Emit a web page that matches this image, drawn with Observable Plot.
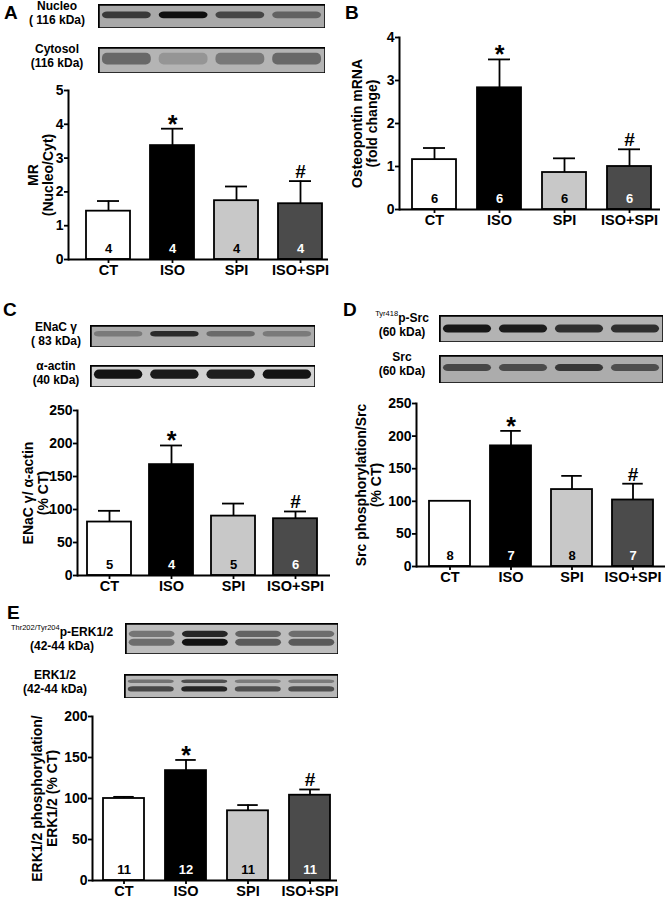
<!DOCTYPE html>
<html>
<head>
<meta charset="utf-8">
<script src="https://cdn.jsdelivr.net/npm/d3@7"></script>
<script src="https://cdn.jsdelivr.net/npm/@observablehq/plot@0.6"></script>
<style>
  body { margin: 0; background: white; }
  #fig { position: relative; width: 666px; height: 899px; background: white; overflow: hidden;
         font-family: "Liberation Sans", Arial, sans-serif; font-weight: bold; color: black; }
  .lbl { position: absolute; text-align: center; font-size: 12px; line-height: 14px; height: 14px; white-space: pre; }
  .letter { position: absolute; font-size: 19px; line-height: 19px; }
  .sup { font-size: 7.5px; font-weight: normal; display: inline-block; vertical-align: top; line-height: 8px; margin-top: -1px; }
</style>
</head>
<body>
<div id="fig"></div>
<script>
// ---------- data ----------
const groups = ["CT", "ISO", "SPI", "ISO+SPI"];
const signif = ["", "*", "", "#"];

// A: MR nuclear / cytosol ratio
const mrMean = [1.43, 3.37, 1.74, 1.65];
const mrSem  = [0.30, 0.50, 0.42, 0.67];
const mrN    = [4, 4, 4, 4];
const mrTicks = [0, 1, 2, 3, 4, 5];

// B: Osteopontin mRNA
const opnMean = [1.16, 2.83, 0.86, 1.00];
const opnSem  = [0.27, 0.66, 0.33, 0.40];
const opnN    = [6, 6, 6, 6];
const opnTicks = [0, 1, 2, 3, 4];

// C: ENaC gamma / alpha-actin
const enacMean = [81, 168, 90, 86];
const enacSem  = [17, 29, 19, 11];
const enacN    = [5, 4, 5, 6];
const enacTicks = [0, 50, 100, 150, 200, 250];

// D: Src phosphorylation / Src
const srcMean = [100, 185, 118, 102];
const srcSem  = [0, 23, 21, 25];
const srcN    = [8, 7, 8, 7];
const srcTicks = [0, 50, 100, 150, 200, 250];

// E: ERK1/2 phosphorylation / ERK1/2
const erkMean = [100, 134, 85, 104];
const erkSem  = [2, 13, 7, 7];
const erkN    = [11, 12, 11, 11];
const erkTicks = [0, 50, 100, 150, 200];

// Western blot band intensities (per lane, 0..1)
const nucleoBand  = [0.70, 0.97, 0.62, 0.45];
const cytosolBand = [0.45, 0.18, 0.35, 0.45];
const enacBand    = [0.30, 0.80, 0.40, 0.30];
const actinBand   = [0.95, 0.92, 0.90, 0.95];
const pSrcBand    = [0.92, 0.90, 0.78, 0.78];
const srcBand     = [0.62, 0.60, 0.72, 0.58];
const pErkUpper   = [0.40, 0.85, 0.50, 0.45];
const pErkLower   = [0.45, 0.95, 0.55, 0.55];
const erkUpper    = [0.40, 0.60, 0.35, 0.35];
const erkLower    = [0.65, 0.85, 0.60, 0.60];

// ---------- styling / layout ----------
const fills = ["#ffffff", "#000000", "#c8c8c8", "#4b4b4b"];
const nColor = ["black", "white", "black", "white"];
const fig = document.getElementById("fig");
const FONT = '"Liberation Sans", Arial, sans-serif';

const hasNarrow = (() => {
  const ctx = document.createElement("canvas").getContext("2d");
  ctx.font = 'bold 20px "Liberation Sans Narrow", monospace';
  const a = ctx.measureText("ISO+SPI 0123").width;
  ctx.font = 'bold 20px monospace';
  const b = ctx.measureText("ISO+SPI 0123").width;
  return Math.abs(a - b) > 0.5;
})();
const TICKFONT = hasNarrow ? '"Liberation Sans Narrow", "Liberation Sans", Arial, sans-serif' : FONT;
const XSIZE = hasNarrow ? 17 : 14.5;
const YSIZE = hasNarrow ? 16.5 : 14;
const NSIZE = hasNarrow ? 15.5 : 13;

function place(el, left, top) {
  el.style.position = "absolute";
  el.style.left = left + "px";
  el.style.top = top + "px";
  el.style.background = "transparent";
  el.style.maxWidth = "none";
  fig.appendChild(el);
}

function barChart(mean, sem, n, ticks, label, L) {
  const data = groups.map((g, i) => ({g, i, mean: mean[i], top: mean[i] + sem[i], n: n[i], sig: signif[i]}));
  const step = (L.barEnd - L.barStart - L.bw) / 3;
  const pi = 1 - L.bw / step;
  const sw = 1.8;
  const svg = Plot.plot({
    width: L.w, height: L.h,
    marginLeft: L.ml, marginTop: L.mt, marginRight: L.mr, marginBottom: L.mb,
    style: {fontFamily: FONT, fontWeight: "bold", fontSize: "15px", color: "black", background: "transparent", overflow: "visible"},
    x: {type: "band", domain: groups, range: [L.barStart - L.left, L.barEnd - L.left], paddingInner: pi, paddingOuter: 0, label: null},
    y: {domain: [ticks[0], ticks[ticks.length - 1]], label: null},
    color: {type: "identity"},
    marks: [
      Plot.ruleX(data.filter(d => d.top > d.mean), {x: "g", y1: "mean", y2: "top", stroke: "black", strokeWidth: sw}),
      Plot.tickY(data.filter(d => d.top > d.mean), {x: "g", y: "top", stroke: "black", strokeWidth: sw, insetLeft: L.bw / 4, insetRight: L.bw / 4}),
      Plot.barY(data, {x: "g", y: "mean", fill: d => fills[d.i], stroke: "black", strokeWidth: sw}),
      Plot.text(data, {x: "g", y: ticks[0], text: d => String(d.n), fill: d => nColor[d.i], dy: -11, fontSize: NSIZE, fontFamily: TICKFONT}),
      Plot.text(data.filter(d => d.sig === "*"), {x: "g", y: "top", text: "sig", dy: 4, fontSize: 25, lineAnchor: "bottom"}),
      Plot.text(data.filter(d => d.sig === "#"), {x: "g", y: "top", text: "sig", dy: -3, fontSize: 19, lineAnchor: "bottom"}),
      Plot.axisY({ticks, tickFormat: d => String(d), tickSize: 4, tickPadding: 1, strokeWidth: sw, fontSize: YSIZE, fontFamily: TICKFONT, label: null}),
      Plot.axisX({tickSize: 4, tickPadding: 1, strokeWidth: sw, fontSize: XSIZE, fontFamily: TICKFONT, label: null}),
      Plot.ruleY([ticks[0]], {stroke: "black", strokeWidth: 2}),
      Plot.frame({anchor: "left", stroke: "black", strokeWidth: 2}),
      Plot.text([label], {frameAnchor: "left", rotate: -90, dx: L.labelDx, fontSize: 14, textAnchor: "middle", lineAnchor: "middle", lineHeight: 1.05, ariaLabel: "ylabel"})
    ]
  });
  place(svg, L.left, L.top);
  return svg;
}

let blurCount = 0;
function blot(bands, L) {
  const rows = [];
  bands.forEach((b) => b.vals.forEach((v, lane) => rows.push({lane, v, yc: b.yc, t: b.t})));
  const svg = Plot.plot({
    width: L.w, height: L.h, margin: 0,
    x: {domain: [0, 4], axis: null},
    y: {domain: [1, 0], axis: null},
    style: {background: "transparent"},
    marks: [
      Plot.frame({fill: L.bg, stroke: null}),
      Plot.rect(rows, {x1: d => d.lane + 0.07, x2: d => d.lane + 0.93, y1: d => d.yc - d.t / 2, y2: d => d.yc + d.t / 2,
                       fill: "#0a0a0a", fillOpacity: "v", rx: 5, ariaLabel: "band"}),
      Plot.frame({stroke: "black", strokeWidth: 2.5, fill: "none"})
    ]
  });
  const id = "blur" + (blurCount++);
  const s = d3.select(svg);
  const f = s.insert("defs", ":first-child").append("filter").attr("id", id)
    .attr("x", "-30%").attr("y", "-150%").attr("width", "160%").attr("height", "400%");
  f.append("feGaussianBlur").attr("stdDeviation", L.blur || 2.2);
  s.selectAll('g[aria-label="band"]').attr("filter", `url(#${id})`);
  place(svg, L.left, L.top);
}

// two-line blot label, each line its own element
function label(line1, line2, cx, top, w = 140) {
  [line1, line2].forEach((html, k) => {
    const d = document.createElement("div");
    d.className = "lbl";
    d.style.left = (cx - w / 2) + "px";
    d.style.top = (top + k * 14) + "px";
    d.style.width = w + "px";
    d.innerHTML = html;
    fig.appendChild(d);
  });
}
function letter(t, x, y) {
  const d = document.createElement("div");
  d.className = "letter";
  d.style.left = x + "px"; d.style.top = y + "px";
  d.textContent = t;
  fig.appendChild(d);
}

// ---------- Panel A ----------
letter("A", 4, 3);
label("Nucleo", "( 116 kDa)", 57, -1);
label("Cytosol", "(116 kDa)", 57, 42);
blot([{vals: nucleoBand, yc: 0.45, t: 0.28}], {left: 98, top: 4, w: 227, h: 24, bg: "#a9a9a9"});
blot([{vals: cytosolBand, yc: 0.45, t: 0.45}], {left: 98, top: 47, w: 227, h: 26, bg: "#b4b4b4", blur: 3});
barChart(mrMean, mrSem, mrN, mrTicks, "MR\n(Nucleo/Cyt)",
  {left: 0, top: 80, w: 333, h: 200, ml: 68, mt: 10, mb: 21, mr: 5, barStart: 86, barEnd: 322, bw: 44, labelDx: -28});

// ---------- Panel B ----------
letter("B", 345, 3);
barChart(opnMean, opnSem, opnN, opnTicks, "Osteopontin mRNA\n(fold change)",
  {left: 333, top: 27, w: 333, h: 205, ml: 66, mt: 10, mb: 23, mr: 6, barStart: 411, barEnd: 651, bw: 44, labelDx: -35});

// ---------- Panel C ----------
letter("C", 3, 300);
label("ENaC γ", "( 83 kDa)", 56, 320);
label("α-actin", "(40 kDa)", 56, 359);
blot([{vals: enacBand, yc: 0.4, t: 0.25}], {left: 90, top: 325, w: 225, h: 22, bg: "#ababab"});
blot([{vals: actinBand, yc: 0.42, t: 0.42}], {left: 90, top: 365, w: 225, h: 22, bg: "#d2d2d2", blur: 1.8});
const svgC = barChart(enacMean, enacSem, enacN, enacTicks, "ENaC γ/ α-actin\n(% CT)",
  {left: 0, top: 400, w: 333, h: 200, ml: 77, mt: 10, mb: 25, mr: 3, barStart: 86, barEnd: 318, bw: 44, labelDx: -42});
// Greek letters in the C axis title are set smaller and not bold
d3.select(svgC).selectAll('g[aria-label="ylabel"] tspan').each(function() {
  if (this.textContent !== "ENaC γ/ α-actin") return;
  const t = d3.select(this);
  t.text("");
  t.append("tspan").text("ENaC ");
  t.append("tspan").attr("font-size", 11).attr("font-weight", "normal").text("γ");
  t.append("tspan").text("/ ");
  t.append("tspan").attr("font-size", 11).attr("font-weight", "normal").text("α");
  t.append("tspan").text("-actin");
});

// ---------- Panel D ----------
letter("D", 343, 300);
label('<span class="sup">Tyr418</span>p-Src', "(60 kDa)", 402, 311);
label("Src", "(60 kDa)", 402, 350);
blot([{vals: pSrcBand, yc: 0.5, t: 0.3}], {left: 439, top: 315, w: 224, h: 27, bg: "#b3b3b3"});
blot([{vals: srcBand, yc: 0.45, t: 0.25}], {left: 439, top: 355, w: 224, h: 28, bg: "#acacac"});
barChart(srcMean, srcSem, srcN, srcTicks, "Src phosphorylation/Src\n(% CT)",
  {left: 333, top: 393, w: 333, h: 200, ml: 83, mt: 10, mb: 27, mr: 1, barStart: 428, barEnd: 654, bw: 41, labelDx: -48});

// ---------- Panel E ----------
letter("E", 7, 603);
label('<span class="sup">Thr202/Tyr204</span>p-ERK1/2', "(42-44 kDa)", 62, 625);
label("ERK1/2", "(42-44 kDa)", 55, 668);
blot([{vals: pErkUpper, yc: 0.35, t: 0.2}, {vals: pErkLower, yc: 0.62, t: 0.22}], {left: 125, top: 623, w: 213, h: 31, bg: "#bdbdbd", blur: 1.8});
blot([{vals: erkUpper, yc: 0.3, t: 0.15}, {vals: erkLower, yc: 0.62, t: 0.22}], {left: 124, top: 674, w: 214, h: 24, bg: "#b8b8b8", blur: 1.6});
barChart(erkMean, erkSem, erkN, erkTicks, "ERK1/2 phosphorylation/\nERK1/2 (% CT)",
  {left: 0, top: 706, w: 345, h: 193, ml: 92, mt: 10, mb: 19, mr: 8, barStart: 103, barEnd: 330, bw: 41, labelDx: -48});
</script>
</body>
</html>
